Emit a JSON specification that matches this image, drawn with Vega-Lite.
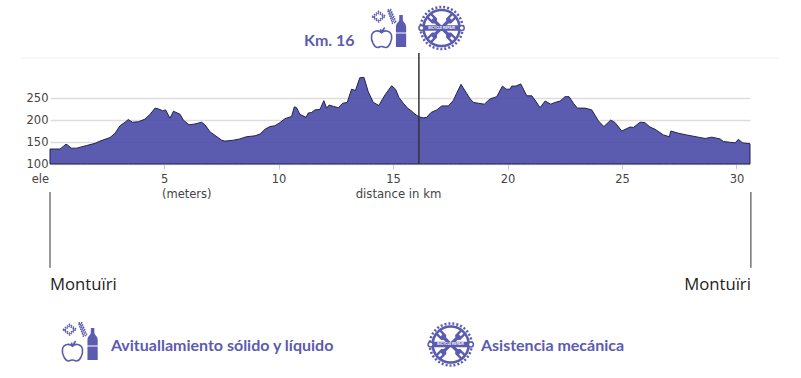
{"$schema":"https://vega.github.io/schema/vega-lite/v6.json","width":700,"height":66,"autosize":{"type":"none"},"padding":{"left":50,"top":98,"right":51,"bottom":214},"background":"white","view":{"stroke":null},"config":{"font":"DejaVu Sans"},
"datasets":{
"profile":[{"km":0.02,"ele":134},{"km":0.46,"ele":134},{"km":0.6,"ele":140},{"km":0.72,"ele":145},{"km":0.82,"ele":142},{"km":0.94,"ele":136},{"km":1.19,"ele":136},{"km":1.4,"ele":139},{"km":1.62,"ele":142},{"km":1.99,"ele":147},{"km":2.2,"ele":152},{"km":2.42,"ele":156},{"km":2.64,"ele":160},{"km":2.86,"ele":170},{"km":3.08,"ele":187},{"km":3.3,"ele":195},{"km":3.44,"ele":201},{"km":3.62,"ele":195},{"km":3.88,"ele":196},{"km":4.17,"ele":202},{"km":4.39,"ele":213},{"km":4.61,"ele":227},{"km":4.82,"ele":224},{"km":4.93,"ele":221},{"km":5.07,"ele":223},{"km":5.26,"ele":204},{"km":5.41,"ele":220},{"km":5.7,"ele":213},{"km":5.84,"ele":200},{"km":6.09,"ele":189},{"km":6.35,"ele":191},{"km":6.64,"ele":195},{"km":6.79,"ele":189},{"km":7.01,"ele":173},{"km":7.23,"ele":165},{"km":7.52,"ele":154},{"km":7.66,"ele":152},{"km":8.02,"ele":154},{"km":8.31,"ele":157},{"km":8.6,"ele":162},{"km":8.97,"ele":164},{"km":9.19,"ele":168},{"km":9.41,"ele":179},{"km":9.62,"ele":185},{"km":9.84,"ele":187},{"km":10.06,"ele":194},{"km":10.28,"ele":203},{"km":10.57,"ele":208},{"km":10.69,"ele":230},{"km":10.79,"ele":228},{"km":10.93,"ele":213},{"km":11.2,"ele":206},{"km":11.3,"ele":216},{"km":11.44,"ele":217},{"km":11.59,"ele":223},{"km":11.81,"ele":224},{"km":11.98,"ele":244},{"km":12.1,"ele":227},{"km":12.21,"ele":234},{"km":12.39,"ele":231},{"km":12.61,"ele":228},{"km":12.8,"ele":238},{"km":13.0,"ele":240},{"km":13.19,"ele":270},{"km":13.36,"ele":267},{"km":13.55,"ele":296},{"km":13.73,"ele":297},{"km":13.92,"ele":264},{"km":14.14,"ele":240},{"km":14.38,"ele":233},{"km":14.65,"ele":257},{"km":14.94,"ele":278},{"km":15.11,"ele":270},{"km":15.26,"ele":251},{"km":15.45,"ele":238},{"km":15.63,"ele":227},{"km":15.82,"ele":220},{"km":15.96,"ele":213},{"km":16.14,"ele":207},{"km":16.33,"ele":205},{"km":16.47,"ele":206},{"km":16.66,"ele":217},{"km":16.91,"ele":223},{"km":17.13,"ele":232},{"km":17.42,"ele":232},{"km":17.64,"ele":245},{"km":17.78,"ele":261},{"km":17.97,"ele":281},{"km":18.15,"ele":266},{"km":18.37,"ele":248},{"km":18.51,"ele":240},{"km":18.73,"ele":238},{"km":18.99,"ele":236},{"km":19.24,"ele":248},{"km":19.53,"ele":253},{"km":19.78,"ele":277},{"km":19.94,"ele":270},{"km":20.11,"ele":270},{"km":20.18,"ele":277},{"km":20.36,"ele":277},{"km":20.58,"ele":282},{"km":20.84,"ele":255},{"km":21.06,"ele":255},{"km":21.23,"ele":243},{"km":21.42,"ele":228},{"km":21.64,"ele":243},{"km":21.89,"ele":236},{"km":22.08,"ele":240},{"km":22.3,"ele":243},{"km":22.51,"ele":253},{"km":22.69,"ele":253},{"km":22.88,"ele":238},{"km":23.05,"ele":227},{"km":23.38,"ele":227},{"km":23.68,"ele":223},{"km":23.97,"ele":198},{"km":24.21,"ele":185},{"km":24.51,"ele":200},{"km":24.7,"ele":194},{"km":24.99,"ele":175},{"km":25.35,"ele":184},{"km":25.5,"ele":183},{"km":25.79,"ele":195},{"km":26.0,"ele":194},{"km":26.22,"ele":184},{"km":26.44,"ele":179},{"km":26.81,"ele":166},{"km":27.07,"ele":162},{"km":27.13,"ele":175},{"km":27.46,"ele":170},{"km":27.82,"ele":166},{"km":28.33,"ele":161},{"km":28.63,"ele":158},{"km":28.92,"ele":161},{"km":29.28,"ele":157},{"km":29.43,"ele":151},{"km":29.94,"ele":148},{"km":30.08,"ele":156},{"km":30.27,"ele":148},{"km":30.59,"ele":146}],
"apple":[{"km":14.5,"ele":387.5},{"km":1.0,"ele":-325}],
"bottle":[{"km":15.35,"ele":402.3},{"km":1.88,"ele":-309.1}],
"confetti":[{"km":14.61,"ele":430.7},{"km":1.11,"ele":-280.7}],
"gear":[{"km":17.12,"ele":409.1},{"km":17.52,"ele":-310.2}],
"knob":[{"km":16.24,"ele":409.1},{"km":18.0,"ele":409.1},{"km":16.64,"ele":-310.2},{"km":18.4,"ele":-310.2}],
"gearLabel":[{"km":17.12,"ele":409.1,"label":"BICYCLE REPAIR"},{"km":17.52,"ele":-310.2,"label":"BICYCLE REPAIR"}],
"blue":[{"km":11.11,"ele":379.5,"label":"Km. 16"}],
"legend":[{"km":2.68,"ele":-313.7,"label":"Avituallamiento sólido y líquido"},{"km":18.84,"ele":-313.7,"label":"Asistencia mecánica"}],
"grayAxis":[{"km":-0.02,"ele":64,"label":"ele"}],
"meters":[{"km":4.91,"ele":30,"label":"(meters)"}],
"placeL":[{"km":0.02,"ele":-174.5,"label":"Montuïri"}],
"placeR":[{"km":30.63,"ele":-174.5,"label":"Montuïri"}],
"vrules":[{"km":0.02,"ele":36.4,"ele2":-136},{"km":30.63,"ele":36.4,"ele2":-136}],
"marker":[{"km":16.13,"ele":352,"ele2":100}],
"topline":[{"km":-1.2,"km2":31.81,"ele":341}]
},
"layer":[
{"data":{"name":"topline"},"mark":{"type":"rule","color":"#eeeeee","strokeWidth":1},"encoding":{"x":{"field":"km","type":"quantitative","scale":{"domain":[0.02,30.59],"nice":false,"zero":false},"axis":{"values":[5,10,15,20,25,30],"tickCount":6,"title":"distance in km","titleFont":"DejaVu Sans","titleFontSize":11.7,"titleFontWeight":"normal","titleColor":"#444444","titleX":348,"titlePadding":0,"titleBaseline":"middle","titleY":29,"labelFontSize":11.5,"labelColor":"#444444","labelPadding":4,"tickColor":"#cccccc","tickSize":5,"domain":false,"grid":false,"format":"d","labelFlush":false,"labelOverlap":false}},"x2":{"field":"km2"},"y":{"field":"ele","type":"quantitative","scale":{"domain":[100,250],"nice":false,"zero":false},"axis":{"values":[100,150,200,250],"tickCount":4,"title":null,"labelFontSize":11.5,"labelColor":"#444444","labelPadding":2,"ticks":false,"domain":false,"grid":true,"gridColor":"#dddddd","gridWidth":1.5,"labelOverlap":false,"labelBound":false}}}},
{"data":{"name":"profile"},"mark":{"type":"area","fill":"#4949a6","fillOpacity":0.9,"stroke":"#23234f","strokeWidth":1,"interpolate":"linear"},"encoding":{"x":{"field":"km","type":"quantitative"},"y":{"field":"ele","type":"quantitative"},"y2":{"datum":100}}},
{"data":{"name":"marker"},"mark":{"type":"rule","color":"#333333","strokeWidth":1.5},"encoding":{"x":{"field":"km","type":"quantitative"},"y":{"field":"ele","type":"quantitative"},"y2":{"field":"ele2"}}},
{"data":{"name":"vrules"},"mark":{"type":"rule","color":"#333333","strokeWidth":1},"encoding":{"x":{"field":"km","type":"quantitative"},"y":{"field":"ele","type":"quantitative"},"y2":{"field":"ele2"}}},
{"data":{"name":"apple"},"mark":{"type":"point","shape":"M0,-.45C-.2,-.7-.8,-.75-.95,-.2C-1.05,.3-.65,1-.35,.95C-.15,.9-.1,.85,0,.85C.1,.85,.2,.95,.4,.95C.7,.95,1.05,.3,.95,-.2C.8,-.75,.2,-.7,0,-.45ZM0,-.45L-.1,-.8M0,-.5L.3,-.95","size":441,"filled":false,"stroke":"#5b5bb0","strokeWidth":1.6,"opacity":1},"encoding":{"x":{"field":"km","type":"quantitative"},"y":{"field":"ele","type":"quantitative"}}},
{"data":{"name":"bottle"},"mark":{"type":"point","shape":"M-.11,-1L.11,-1L.11,-.72C.11,-.55,.32,-.5,.32,-.25L.32,1L-.32,1L-.32,-.25C-.32,-.5,-.11,-.55,-.11,-.72ZM-.32,.1L-.32,.16L.32,.16L.32,.1Z","size":1024,"filled":true,"fill":"#5b5bb0","opacity":1},"encoding":{"x":{"field":"km","type":"quantitative"},"y":{"field":"ele","type":"quantitative"}}},
{"data":{"name":"confetti"},"mark":{"type":"point","shape":"M-1,-.15L-.45,-.6L.1,-.2L-.45,.3ZM-.85,-.12L-.45,-.45L-.05,-.18L-.45,.15ZM.3,-.7L.55,-.75L1,.3L.7,.4ZM.42,-.6L.52,-.62L.85,.2L.75,.25Z","size":576,"filled":false,"stroke":"#5b5bb0","strokeWidth":1.5,"strokeDash":[1.5,1],"opacity":1},"encoding":{"x":{"field":"km","type":"quantitative"},"y":{"field":"ele","type":"quantitative"}}},
{"data":{"name":"gear"},"mark":{"type":"point","shape":"circle","size":1764,"filled":false,"stroke":"#5b5bb0","strokeWidth":2.5,"strokeDash":[2,2],"opacity":1},"encoding":{"x":{"field":"km","type":"quantitative"},"y":{"field":"ele","type":"quantitative"}}},
{"data":{"name":"gear"},"mark":{"type":"point","shape":"M-.9,0A.9,.9 0 1 1 .9,0A.9,.9 0 1 1 -.9,0ZM-.78,0A.78,.78 0 1 0 .78,0A.78,.78 0 1 0 -.78,0ZM-.85,-.13L.85,-.13L.85,.13L-.85,.13Z","size":1849,"filled":true,"fill":"#5b5bb0","opacity":1},"encoding":{"x":{"field":"km","type":"quantitative"},"y":{"field":"ele","type":"quantitative"}}},
{"data":{"name":"gear"},"mark":{"type":"point","shape":"M-.95,-.2L-.55,-.2L-.45,-.09L.45,-.09L.55,-.2L.95,-.2L.95,-.07L.72,-.07L.72,.07L.95,.07L.95,.2L.55,.2L.45,.09L-.45,.09L-.55,.2L-.95,.2L-.95,.07L-.72,.07L-.72,-.07L-.95,-.07Z","size":1296,"angle":45,"filled":true,"fill":"#5b5bb0","opacity":1},"encoding":{"x":{"field":"km","type":"quantitative"},"y":{"field":"ele","type":"quantitative"}}},
{"data":{"name":"gear"},"mark":{"type":"point","shape":"M-.95,-.2L-.55,-.2L-.45,-.09L.45,-.09L.55,-.2L.95,-.2L.95,-.07L.72,-.07L.72,.07L.95,.07L.95,.2L.55,.2L.45,.09L-.45,.09L-.55,.2L-.95,.2L-.95,.07L-.72,.07L-.72,-.07L-.95,-.07Z","size":1296,"angle":135,"filled":true,"fill":"#5b5bb0","opacity":1},"encoding":{"x":{"field":"km","type":"quantitative"},"y":{"field":"ele","type":"quantitative"}}},
{"data":{"name":"knob"},"mark":{"type":"point","shape":"circle","size":25,"filled":true,"fill":"white","stroke":"#5b5bb0","strokeWidth":1.5,"opacity":1},"encoding":{"x":{"field":"km","type":"quantitative"},"y":{"field":"ele","type":"quantitative"}}},
{"data":{"name":"gearLabel"},"mark":{"type":"text","font":"Lato","fontWeight":700,"fontSize":3.5,"color":"white","align":"center","baseline":"middle"},"encoding":{"x":{"field":"km","type":"quantitative"},"y":{"field":"ele","type":"quantitative"},"text":{"field":"label"}}},
{"data":{"name":"blue"},"mark":{"type":"text","font":"Lato","fontWeight":700,"fontSize":16,"color":"#5b5bb0","align":"left","baseline":"middle"},"encoding":{"x":{"field":"km","type":"quantitative"},"y":{"field":"ele","type":"quantitative"},"text":{"field":"label"}}},
{"data":{"name":"legend"},"mark":{"type":"text","font":"Lato","fontWeight":700,"fontSize":16,"color":"#5b5bb0","align":"left","baseline":"middle"},"encoding":{"x":{"field":"km","type":"quantitative"},"y":{"field":"ele","type":"quantitative"},"text":{"field":"label"}}},
{"data":{"name":"grayAxis"},"mark":{"type":"text","font":"DejaVu Sans","fontSize":11.5,"color":"#444444","align":"right","baseline":"middle"},"encoding":{"x":{"field":"km","type":"quantitative"},"y":{"field":"ele","type":"quantitative"},"text":{"field":"label"}}},
{"data":{"name":"meters"},"mark":{"type":"text","font":"DejaVu Sans","fontSize":11.5,"color":"#444444","align":"left","baseline":"middle"},"encoding":{"x":{"field":"km","type":"quantitative"},"y":{"field":"ele","type":"quantitative"},"text":{"field":"label"}}},
{"data":{"name":"placeL"},"mark":{"type":"text","font":"Open Sans","fontSize":16.7,"color":"#222222","align":"left","baseline":"middle"},"encoding":{"x":{"field":"km","type":"quantitative"},"y":{"field":"ele","type":"quantitative"},"text":{"field":"label"}}},
{"data":{"name":"placeR"},"mark":{"type":"text","font":"Open Sans","fontSize":16.7,"color":"#222222","align":"right","baseline":"middle"},"encoding":{"x":{"field":"km","type":"quantitative"},"y":{"field":"ele","type":"quantitative"},"text":{"field":"label"}}}
]}
